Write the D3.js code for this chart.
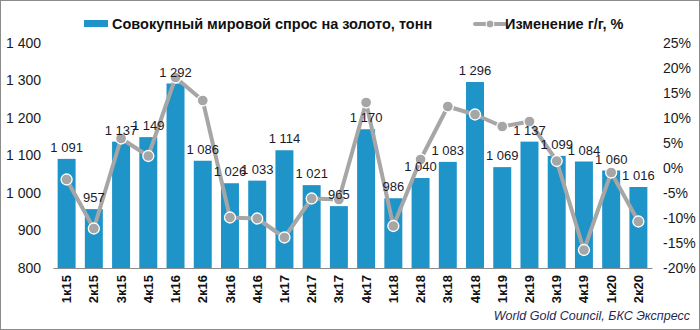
<!DOCTYPE html>
<html><head><meta charset="utf-8">
<script src="https://cdn.jsdelivr.net/npm/d3@7"></script>
<style>
body{margin:0;background:#fff;}
svg{display:block;font-family:"Liberation Sans",Arial,sans-serif;}
</style></head>
<body>
<svg id="c" width="700" height="330"></svg>
<script>
const categories = ["1к15","2к15","3к15","4к15","1к16","2к16","3к16","4к16","1к17","2к17","3к17","4к17","1к18","2к18","3к18","4к18","1к19","2к19","3к19","4к19","1к20","2к20"];
const demand = [1091,957,1137,1149,1292,1086,1026,1033,1114,1021,965,1170,986,1040,1083,1296,1069,1137,1099,1084,1060,1016];
const change = [-2.3,-12.1,5.9,2.4,18.1,13.5,-9.9,-10.1,-13.9,-6.1,-6.3,13.1,-11.6,1.7,12.3,10.7,8.3,9.3,1.4,-16.4,-0.9,-10.7];
const leftTicks = [800,900,1000,1100,1200,1300,1400];
const rightTicks = [-20,-15,-10,-5,0,5,10,15,20,25];
const seriesNames = ["Совокупный мировой спрос на золото, тонн","Изменение г/г, %"];
const sourceText = "World Gold Council, БКС Экспресс";

const svg = d3.select("#c");
const W=700,H=330;
svg.append("rect").attr("x",0.5).attr("y",0.5).attr("width",W-1).attr("height",H-1).attr("fill","#fff").attr("stroke","#8c8c8c");

const x = d3.scaleBand().domain(categories).range([53,652]).paddingInner(0.34).paddingOuter(0.17);
const yL = d3.scaleLinear().domain([800,1400]).range([268,43]);
const yR = d3.scaleLinear().domain([-20,25]).range([268,43]);
const fmt = v => d3.format(",")(v).replace(/,/g," ");

const barColor="#1e94c9", lineColor="#a6a6a6";

// left axis
const axL = svg.append("g").attr("transform","translate(53,0)")
  .call(d3.axisLeft(yL).tickValues(leftTicks).tickSize(0).tickPadding(12).tickFormat(fmt));
axL.select(".domain").remove();
axL.selectAll("text").attr("font-size",14).attr("fill","#1a1a1a").attr("font-family","Liberation Sans,Arial,sans-serif");

// right axis
const axR = svg.append("g").attr("transform","translate(652,0)")
  .call(d3.axisRight(yR).tickValues(rightTicks).tickSize(0).tickPadding(11).tickFormat(d=>d+"%"));
axR.select(".domain").remove();
axR.selectAll("text").attr("font-size",14).attr("fill","#1a1a1a").attr("font-family","Liberation Sans,Arial,sans-serif");

// bars
svg.append("g").selectAll("rect").data(demand).join("rect")
  .attr("x",(d,i)=>x(categories[i])).attr("width",x.bandwidth())
  .attr("y",d=>yL(d)).attr("height",d=>yL(800)-yL(d)).attr("fill",barColor);

// x axis
const axX = svg.append("g").attr("transform","translate(0,268)")
  .call(d3.axisBottom(x).tickSize(0).tickPadding(0));
axX.select(".domain").attr("stroke","#8c8c8c").attr("stroke-width",1.2);
axX.selectAll("text").attr("transform","rotate(-90)").attr("text-anchor","end")
  .attr("x",-7).attr("y",0).attr("dy","0.35em")
  .attr("font-size",13).attr("font-weight","bold").attr("fill","#111").attr("font-family","Liberation Sans,Arial,sans-serif");

// line
const cx = i => x(categories[i])+x.bandwidth()/2;
svg.append("path").datum(change)
  .attr("d",d3.line().x((d,i)=>cx(i)).y(d=>yR(d)))
  .attr("fill","none").attr("stroke",lineColor).attr("stroke-width",4).attr("stroke-linejoin","round");
svg.append("g").selectAll("circle").data(change).join("circle")
  .attr("cx",(d,i)=>cx(i)).attr("cy",d=>yR(d)).attr("r",5.5)
  .attr("fill",lineColor).attr("stroke","#fff").attr("stroke-width",1.3);

// bar labels
svg.append("g").selectAll("text").data(demand).join("text")
  .attr("x",(d,i)=>cx(i)).attr("y",d=>yL(d)-7)
  .attr("text-anchor","middle").attr("font-size",13).attr("fill","#1a1a2a")
  .text(d=>fmt(d));

// legend
const lg = svg.append("g");
lg.append("rect").attr("x",84).attr("y",20).attr("width",24).attr("height",7).attr("fill",barColor);
lg.append("text").attr("x",112).attr("y",29).attr("font-size",14.5).attr("font-weight","bold").attr("fill","#111").text(seriesNames[0]);
lg.append("line").attr("x1",475).attr("x2",505).attr("y1",24).attr("y2",24).attr("stroke",lineColor).attr("stroke-width",4).attr("stroke-linecap","round");
lg.append("circle").attr("cx",490).attr("cy",24).attr("r",4).attr("fill",lineColor).attr("stroke","#fff").attr("stroke-width",1);
lg.append("text").attr("x",505).attr("y",29).attr("font-size",14.5).attr("font-weight","bold").attr("fill","#111").text(seriesNames[1]);

// source
svg.append("text").attr("x",690).attr("y",320).attr("text-anchor","end")
  .attr("font-size",12.5).attr("font-style","italic").attr("fill","#1f2a55").text(sourceText);
</script>
</body></html>
